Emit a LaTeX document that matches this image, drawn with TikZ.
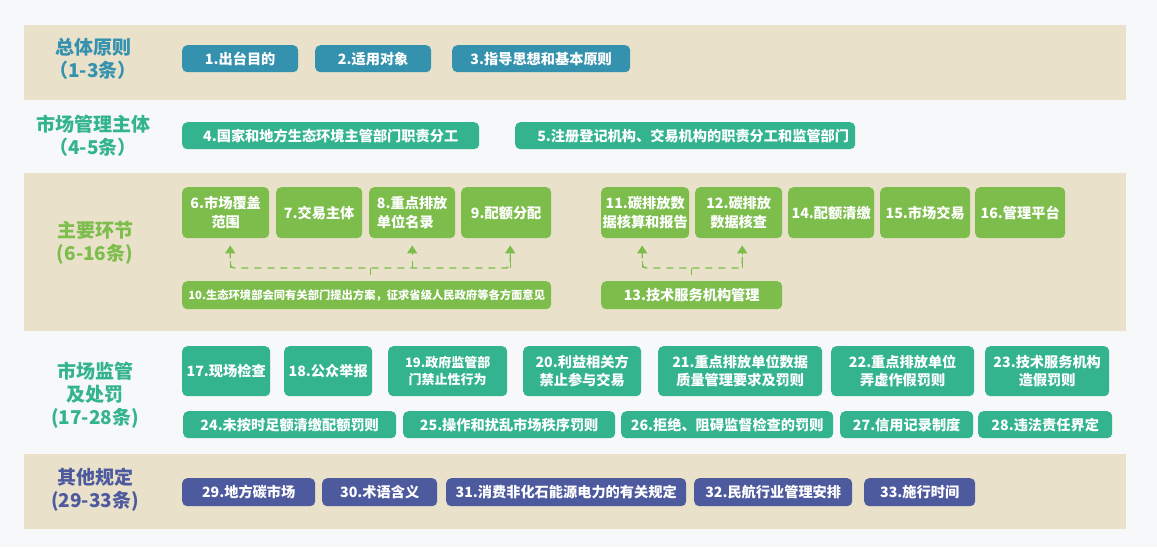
\documentclass[tikz,border=0pt]{standalone}
\usepackage{fontspec}
\setmainfont{Noto Sans CJK SC}
\usetikzlibrary{arrows.meta, positioning}
\definecolor{pagebg}{HTML}{F7F8F9}
\definecolor{bandbg}{HTML}{E9E1CA}
\definecolor{cblue}{HTML}{3592AE}
\definecolor{cteal}{HTML}{33B48F}
\definecolor{cgreen}{HTML}{7CBD4B}
\definecolor{cnavy}{HTML}{4E5A9E}

\begin{document}
\begin{tikzpicture}[x=1pt, y=-1pt,
    band/.style={fill=bandbg, draw=none},
    box/.style={rounded corners=5pt, anchor=north west, inner sep=0pt,
        text=white, align=center,
        font=\bfseries\fontsize{14.2}{18.5}\selectfont},
    bluebox/.style={box, fill=cblue, minimum height=27pt},
    tealbox/.style={box, fill=cteal},
    greenbox/.style={box, fill=cgreen},
    navybox/.style={box, fill=cnavy, minimum height=28pt},
    sect/.style={align=center, font=\bfseries\fontsize{19}{23}\selectfont},
    link/.style={draw=cgreen, line width=1.4pt, dash pattern=on 7pt off 6pt,
        rounded corners=4pt},
    tip/.style={-{Triangle[width=10pt,length=8pt]}}]
    \useasboundingbox[fill=pagebg] (0,0) rectangle (1157,547);

    % bands
    \fill[band] (24,25) rectangle (1126,100);
    \fill[band] (24,173) rectangle (1126,331);
    \fill[band] (24,454) rectangle (1126,529);

    % section labels
    \node[sect, text=cblue]  (s1) at (93,59)  {总体原则\\（1-3条）};
    \node[sect, text=cteal]  (s2) at (93,136) {市场管理主体\\（4-5条）};
    \node[sect, text=cgreen] (s3) at (95,243) {主要环节\\(6-16条)};
    \node[sect, text=cteal]  (s4) at (95,395) {市场监管\\及处罚\\(17-28条)};
    \node[sect, text=cnavy]  (s5) at (95,490) {其他规定\\(29-33条)};

    % 1-3
    \node[bluebox, minimum width=116pt] (b1) at (182,45) {1.出台目的};
    \node[bluebox, minimum width=116pt] (b2) at (315,45) {2.适用对象};
    \node[bluebox, minimum width=178pt] (b3) at (452,45) {3.指导思想和基本原则};

    % 4-5
    \node[tealbox, minimum width=297pt, minimum height=27pt] (b4) at (182,122) {4.国家和地方生态环境主管部门职责分工};
    \node[tealbox, minimum width=340pt, minimum height=27pt] (b5) at (515,122) {\hspace{16pt}5.注册登记机构、交易机构的职责分工和监管部门};

    % 6-16
    \node[greenbox, minimum width=87pt, minimum height=51pt] (b6) at (182,187) {6.市场覆盖\\范围};
    \node[greenbox, minimum width=86pt, minimum height=51pt] (b7) at (276,187) {7.交易主体};
    \node[greenbox, minimum width=86pt, minimum height=51pt, align=left] (b8) at (369,187) {8.重点排放\\单位名录};
    \node[greenbox, minimum width=90pt, minimum height=51pt] (b9) at (461,187) {9.配额分配};
    \node[greenbox, minimum width=88pt, minimum height=51pt] (b11) at (601,187) {11.碳排放数\\据核算和报告};
    \node[greenbox, minimum width=87pt, minimum height=51pt] (b12) at (695,187) {12.碳排放\\数据核查};
    \node[greenbox, minimum width=86pt, minimum height=51pt] (b14) at (788,187) {14.配额清缴};
    \node[greenbox, minimum width=90pt, minimum height=51pt] (b15) at (880,187) {15.市场交易};
    \node[greenbox, minimum width=90pt, minimum height=51pt] (b16) at (975,187) {16.管理平台};
    \node[greenbox, minimum width=369pt, minimum height=28pt,
        font=\bfseries\fontsize{11.3}{14}\selectfont] (b10) at (182,281)
        {10.生态环境部会同有关部门提出方案，征求省级人民政府等各方面意见};
    \node[greenbox, minimum width=181pt, minimum height=28pt] (b13) at (601,281) {13.技术服务机构管理};

    % dashed links
    \coordinate (t6) at ([shift={(4.5pt,-7pt)}]b6.south);
    \coordinate (t8) at ([shift={(0pt,-7pt)}]b8.south);
    \coordinate (t9) at ([shift={(4pt,-7pt)}]b9.south);
    \coordinate (t11) at ([shift={(-3pt,-7pt)}]b11.south);
    \coordinate (t12) at ([shift={(3.5pt,-7pt)}]b12.south);
    \coordinate (j1) at ([shift={(3.5pt,13pt)}]b10.north);
    \coordinate (j2) at ([yshift=13pt]b13.north);
    \draw[link, tip] (t6 |- j1) -- (t6);
    \draw[link, tip] (t9 |- j1) -- (t9);
    \draw[link, tip] (t8 |- j1) -- (t8);
    \draw[link] ([yshift=-6pt]t6) |- (j1) -| ([yshift=-6pt]t9);
    \draw[link] (j1) -- (j1 |- b10.north);
    \draw[link, tip] (t11 |- j2) -- (t11);
    \draw[link, tip] (t12 |- j2) -- (t12);
    \draw[link] ([yshift=-6pt]t11) |- (j2) -| ([yshift=-6pt]t12);
    \draw[link] (j2) -- (b13.north);

    % 17-28
    \node[tealbox, minimum width=88pt, minimum height=50pt] (b17) at (182,346) {17.现场检查};
    \node[tealbox, minimum width=88pt, minimum height=50pt] (b18) at (284,346) {18.公众举报};
    \node[tealbox, minimum width=119pt, minimum height=50pt,
        font=\bfseries\fontsize{13}{17}\selectfont] (b19) at (388,346) {19.政府监管部\\门禁止性行为};
    \node[tealbox, minimum width=118pt, minimum height=50pt] (b20) at (523,346) {20.利益相关方\\禁止参与交易};
    \node[tealbox, minimum width=164pt, minimum height=50pt] (b21) at (658,346) {21.重点排放单位数据\\质量管理要求及罚则};
    \node[tealbox, minimum width=143pt, minimum height=50pt] (b22) at (831,346) {22.重点排放单位\\弄虚作假罚则};
    \node[tealbox, minimum width=124pt, minimum height=50pt] (b23) at (985,346) {23.技术服务机构\\造假罚则};
    \node[tealbox, minimum width=213pt, minimum height=27pt] (b24) at (183,411) {24.未按时足额清缴配额罚则};
    \node[tealbox, minimum width=212pt, minimum height=27pt] (b25) at (403,411) {25.操作和扰乱市场秩序罚则};
    \node[tealbox, minimum width=212pt, minimum height=27pt] (b26) at (621,411) {26.拒绝、阻碍监督检查的罚则};
    \node[tealbox, minimum width=133pt, minimum height=27pt] (b27) at (840,411) {27.信用记录制度};
    \node[tealbox, minimum width=134pt, minimum height=27pt] (b28) at (978,411) {28.违法责任界定};

    % 29-33
    \node[navybox, minimum width=133pt] (b29) at (182,478) {29.地方碳市场};
    \node[navybox, minimum width=115pt] (b30) at (322,478) {30.术语含义};
    \node[navybox, minimum width=240pt] (b31) at (446,478) {31.消费非化石能源电力的有关规定};
    \node[navybox, minimum width=158pt] (b32) at (694,478) {32.民航行业管理安排};
    \node[navybox, minimum width=111pt] (b33) at (864,478) {33.施行时间};

\end{tikzpicture}
\end{document}
